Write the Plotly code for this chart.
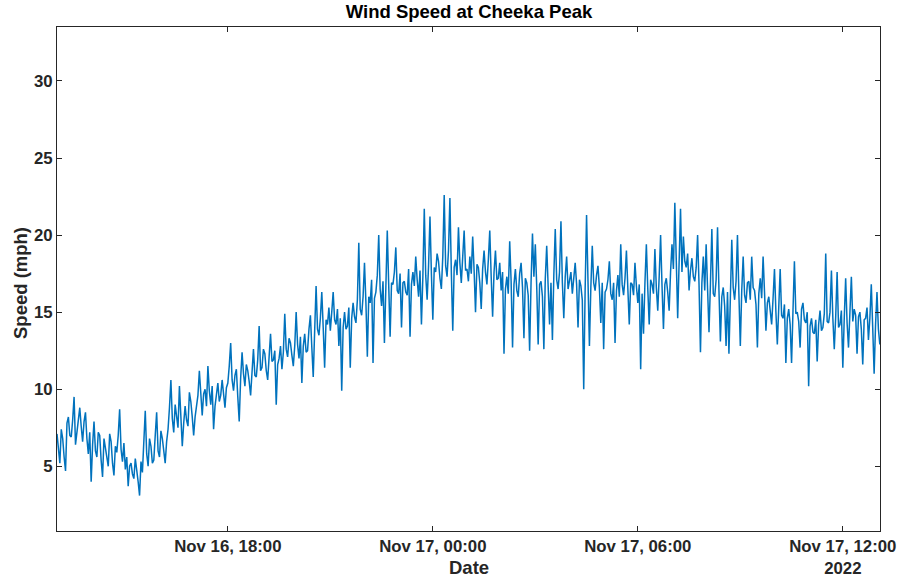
import pandas as pd
import plotly.graph_objects as go

# Wind speed (mph), 2.5-minute readings starting Nov 16 2022 13:00
h00 = [7.1, 6.0, 5.2, 7.4, 6.8, 5.6, 4.7, 7.8, 8.2, 7.0, 6.9, 8.0, 9.5, 6.4, 7.3, 8.2, 8.8, 7.6, 6.6, 7.9, 8.5, 6.8, 5.8, 7.2]
h01 = [4.0, 6.4, 7.9, 6.0, 5.6, 7.2, 7.0, 5.4, 4.3, 6.8, 6.2, 5.7, 5.0, 7.1, 6.6, 5.2, 4.4, 6.3, 5.9, 7.0, 8.7, 6.1, 5.3, 6.5]
h02 = [4.8, 5.6, 3.7, 5.0, 5.2, 4.5, 4.2, 5.5, 4.9, 4.0, 3.1, 5.3, 4.6, 6.2, 8.6, 5.8, 5.0, 6.8, 6.3, 5.2, 5.4, 7.0, 8.5, 6.0]
h03 = [5.6, 7.3, 6.8, 6.0, 5.2, 6.6, 7.4, 8.8, 10.6, 8.1, 7.2, 9.0, 8.4, 7.5, 10.2, 8.6, 6.3, 7.8, 8.9, 8.0, 7.6, 9.8, 9.2, 8.2]
h04 = [7.0, 8.2, 8.8, 9.6, 11.2, 9.3, 8.3, 9.7, 10.0, 8.9, 11.5, 9.9, 9.0, 10.2, 7.4, 8.9, 9.8, 10.4, 9.2, 9.6, 10.6, 9.5, 8.8, 10.1]
h05 = [10.4, 11.5, 13.0, 10.6, 9.9, 10.9, 11.3, 9.5, 7.9, 10.7, 12.4, 11.0, 10.2, 11.6, 11.2, 10.5, 9.6, 11.1, 12.6, 10.9, 10.8, 11.9, 14.1, 11.2]
h06 = [11.4, 12.6, 12.3, 11.2, 10.6, 12.1, 13.6, 11.8, 11.9, 12.5, 9.0, 11.6, 12.0, 12.8, 11.3, 12.4, 14.9, 12.6, 12.1, 13.3, 13.0, 12.2, 11.5, 12.8]
h07 = [15.0, 12.9, 12.0, 13.4, 10.4, 12.8, 13.6, 12.4, 12.5, 13.9, 14.8, 12.7, 10.8, 13.8, 16.7, 13.9, 13.5, 14.6, 16.3, 14.0, 11.4, 14.5, 14.2, 15.3]
h08 = [13.8, 15.0, 16.3, 14.5, 14.2, 15.2, 12.8, 14.6, 9.9, 14.0, 15.0, 13.9, 14.1, 15.3, 11.4, 14.6, 15.6, 14.7, 14.3, 15.8, 19.5, 15.2, 14.8, 16.0]
h09 = [18.2, 15.6, 12.1, 16.0, 15.6, 17.1, 11.7, 15.9, 16.3, 17.4, 20.0, 16.5, 15.4, 17.0, 13.0, 16.6, 20.3, 16.8, 13.4, 16.9, 16.8, 17.6, 19.2, 16.4]
h10 = [16.2, 17.5, 14.0, 16.9, 17.0, 16.3, 16.1, 17.8, 13.4, 16.8, 17.6, 16.7, 18.6, 17.1, 16.0, 17.7, 14.2, 17.3, 21.7, 17.4, 15.8, 18.0, 21.2, 17.5]
h11 = [14.5, 17.9, 17.6, 18.8, 18.3, 17.2, 16.5, 18.6, 22.6, 18.0, 17.3, 19.0, 22.4, 17.6, 13.8, 17.9, 18.4, 17.4, 20.5, 18.2, 16.9, 18.6, 20.3, 17.7]
h12 = [17.8, 17.0, 18.6, 17.5, 19.9, 17.7, 15.0, 18.1, 17.9, 16.9, 15.2, 17.8, 19.0, 17.6, 16.8, 18.4, 20.3, 17.3, 14.7, 17.6, 19.0, 17.1, 17.2, 18.2]
h13 = [16.4, 17.6, 12.3, 16.5, 17.3, 16.2, 19.6, 17.0, 12.7, 16.8, 17.8, 16.4, 16.0, 17.5, 18.2, 16.6, 13.3, 17.2, 16.9, 16.1, 12.5, 16.9, 20.1, 17.3]
h14 = [19.4, 16.6, 12.9, 16.8, 17.0, 16.0, 12.6, 17.2, 19.3, 16.7, 14.2, 16.9, 13.2, 17.4, 20.4, 17.1, 16.5, 17.6, 20.9, 16.9, 14.6, 17.3, 18.6, 16.5]
h15 = [17.0, 17.6, 16.2, 17.2, 18.2, 16.8, 14.0, 17.1, 16.7, 15.8, 10.0, 16.5, 21.3, 17.0, 12.8, 16.6, 19.3, 16.9, 16.4, 17.4, 18.0, 16.6, 14.3, 16.9]
h16 = [12.6, 16.3, 16.5, 17.1, 18.3, 16.2, 15.8, 16.9, 13.0, 16.4, 17.4, 16.0, 19.4, 16.8, 16.1, 17.2, 19.0, 16.5, 14.2, 16.9, 16.8, 16.1, 18.2, 16.7]
h17 = [15.6, 16.8, 11.3, 16.2, 13.6, 16.9, 19.4, 16.5, 14.2, 17.1, 16.8, 16.2, 19.1, 16.6, 15.1, 17.3, 20.0, 16.7, 13.9, 16.8, 17.2, 16.3, 15.1, 17.6]
h18 = [19.4, 17.8, 22.1, 18.4, 14.6, 18.2, 21.7, 17.6, 19.9, 18.3, 17.9, 18.8, 16.4, 17.7, 18.5, 17.3, 17.0, 17.9, 20.0, 16.8, 12.4, 16.9, 18.6, 16.4]
h19 = [19.4, 16.5, 13.7, 16.8, 20.4, 16.2, 16.0, 17.1, 20.5, 16.4, 13.1, 16.0, 16.6, 15.4, 12.8, 16.3, 12.3, 15.9, 19.7, 16.6, 15.8, 17.0, 20.0, 16.2]
h20 = [12.8, 16.4, 18.6, 16.1, 15.6, 16.9, 17.0, 15.8, 18.6, 16.6, 16.4, 15.5, 12.7, 16.2, 17.2, 15.9, 18.6, 16.3, 13.8, 15.6, 16.0, 15.1, 14.2, 15.9]
h21 = [17.8, 15.0, 12.9, 15.3, 17.8, 14.8, 14.6, 15.5, 11.7, 14.6, 15.2, 14.2, 11.7, 15.1, 18.3, 14.9, 15.0, 14.4, 12.7, 15.2, 15.6, 14.5, 14.3, 15.0]
h22 = [10.2, 14.1, 14.6, 13.7, 13.6, 14.5, 11.8, 14.2, 15.1, 13.8, 14.0, 14.9, 18.8, 14.4, 14.3, 15.0, 17.7, 14.6, 12.6, 14.7, 17.6, 14.0, 14.2, 15.1]
h23 = [11.4, 14.6, 17.2, 14.3, 12.7, 15.0, 17.3, 14.4, 15.2, 14.8, 12.3, 14.7, 15.0, 13.9, 11.6, 14.5, 14.6, 15.3, 13.2, 14.6, 16.8, 14.0, 11.0, 14.2]
h24 = [16.3, 13.9, 12.9]

speed = (h00 + h01 + h02 + h03 + h04 + h05 + h06 + h07 + h08 + h09 + h10 + h11
         + h12 + h13 + h14 + h15 + h16 + h17 + h18 + h19 + h20 + h21 + h22 + h23 + h24)
times = pd.date_range("2022-11-16 13:00", periods=len(speed), freq="150s")

x_tickvals = ["2022-11-16 18:00", "2022-11-17 00:00", "2022-11-17 06:00", "2022-11-17 12:00"]
x_ticktext = ["Nov 16, 18:00", "Nov 17, 00:00", "Nov 17, 06:00", "Nov 17, 12:00<br>2022"]
y_tickvals = [5, 10, 15, 20, 25, 30]

FONT = "Liberation Sans, Arial, Helvetica, sans-serif"
AX = "#262626"
TICK_SIZE = 16.8
LABEL_SIZE = 18.5

fig = go.Figure()
fig.add_trace(go.Scatter(x=times, y=speed, mode="lines",
                         line=dict(color="#0072BD", width=1.5), showlegend=False))

fig.update_layout(
    width=899, height=579,
    margin=dict(l=57, r=19, t=27, b=48),
    paper_bgcolor="white", plot_bgcolor="white",
    font=dict(family=FONT, color=AX),
    title=dict(text="Wind Speed at Cheeka Peak", x=0.5217, xanchor="center",
               y=1 - 12 / 579, yanchor="middle",
               font=dict(family=FONT, size=LABEL_SIZE, weight="bold", color="black")),
    annotations=[
        dict(text="Date", xref="paper", yref="paper", x=0.5, y=(531 - 567) / 504,
             xanchor="center", yanchor="middle", showarrow=False,
             font=dict(family=FONT, size=LABEL_SIZE, weight="bold", color=AX)),
        dict(text="Speed (mph)", xref="paper", yref="paper", x=(20 - 57) / 823,
             y=(531 - 283) / 504, textangle=-90,
             xanchor="center", yanchor="middle", showarrow=False,
             font=dict(family=FONT, size=LABEL_SIZE, weight="bold", color=AX)),
    ],
)
fig.update_xaxes(
    range=["2022-11-16 13:00", "2022-11-17 13:05:18"],
    tickmode="array", tickvals=x_tickvals, ticktext=x_ticktext,
    ticks="inside", ticklen=5, tickcolor=AX, tickwidth=1,
    showline=True, linecolor=AX, linewidth=1, mirror="ticks",
    showgrid=False, zeroline=False, automargin=False,
    tickfont=dict(family=FONT, size=TICK_SIZE, weight="bold", color=AX),
)
fig.update_yaxes(
    range=[0.8, 33.5],
    tickmode="array", tickvals=y_tickvals,
    ticks="inside", ticklen=5, tickcolor=AX, tickwidth=1,
    showline=True, linecolor=AX, linewidth=1, mirror="ticks",
    showgrid=False, zeroline=False, automargin=False,
    tickfont=dict(family=FONT, size=TICK_SIZE, weight="bold", color=AX),
)

fig.write_html("out.html")
